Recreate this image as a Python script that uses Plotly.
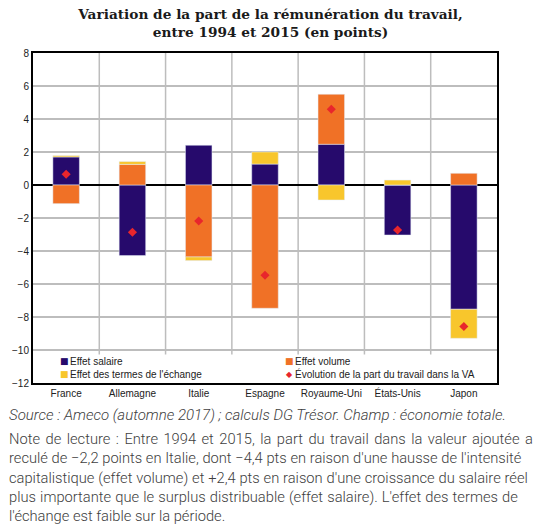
import plotly.graph_objects as go

pays = ["France", "Allemagne", "Italie", "Espagne", "Royaume-Uni", "États-Unis", "Japon"]
effet_salaire = [1.70, -4.28, 2.41, 1.27, 2.47, -3.03, -7.53]
effet_volume = [-1.13, 1.25, -4.36, -7.47, 3.03, 0.0, 0.71]
effet_termes = [0.08, 0.17, -0.22, 0.73, -0.91, 0.30, -1.76]
evolution = [0.65, -2.86, -2.18, -5.47, 4.59, -2.73, -8.58]
y_ticks = [8, 6, 4, 2, 0, -2, -4, -6, -8, -10, -12]

noms = ["Effet salaire", "Effet volume", "Effet des termes de l'échange",
        "Évolution de la part du travail dans la VA"]
title_text = "Variation de la part de la rémunération du travail,<br>entre 1994 et 2015 (en points)"
source_text = "Source : Ameco (automne 2017) ; calculs DG Trésor. Champ : économie totale."
note_lines = [
    "Note de lecture : Entre 1994 et 2015, la part du travail dans la valeur ajoutée a",
    "reculé de −2,2 points en Italie, dont −4,4 pts en raison d'une hausse de l'intensité",
    "capitalistique (effet volume) et +2,4 pts en raison d'une croissance du salaire réel",
    "plus importante que le surplus distribuable (effet salaire). L'effet des termes de",
    "l'échange est faible sur la période.",
]
# extra word spacing (px) to imitate justified text
note_spacing = [1.9, 0.1, 0.25, 0.55, 0.0]

C_SAL = "#260a6c"
C_VOL = "#f07126"
C_TER = "#f8c62c"
C_EVO = "#e8262c"
colors = [C_SAL, C_VOL, C_TER, C_EVO]

# plot area in pixels
L, R, T, B = 29, 497, 53, 383
W, H = 541, 524


def px(xp):
    return (xp - L) / (R - L)


def py(yp):
    return (B - yp) / (B - T)


fig = go.Figure()
fig.add_trace(go.Bar(x=pays, y=effet_salaire, name=noms[0], marker_color=C_SAL, width=0.4))
fig.add_trace(go.Bar(x=pays, y=effet_volume, name=noms[1], marker_color=C_VOL, width=0.4))
fig.add_trace(go.Bar(x=pays, y=effet_termes, name=noms[2], marker_color=C_TER, width=0.4))
fig.add_trace(go.Scatter(x=pays, y=evolution, mode="markers", name=noms[3],
                         marker=dict(symbol="diamond", size=7, color=C_EVO)))

# vertical category separators (stop above the legend box)
for i in range(len(pays) - 1):
    fig.add_shape(type="line", xref="x", yref="y", x0=i + 0.5, x1=i + 0.5, y0=-10.27, y1=8,
                  line=dict(color="#bdbdbd", width=1.5), layer="below")

fig.update_layout(
    width=W, height=H,
    margin=dict(l=L, r=W - R, t=T, b=H - B),
    paper_bgcolor="white", plot_bgcolor="white",
    barmode="relative",
    title=dict(text=title_text, x=0.5, xanchor="center", yref="container", y=1 - 19 / H, yanchor="top",
               font=dict(family="DejaVu Serif", size=13.7, color="#1a1a1a", weight="bold")),
    font=dict(family="Liberation Sans", color="#222222"),
    showlegend=False,
    xaxis=dict(showgrid=False, showline=True, linecolor="black", linewidth=2, mirror=True,
               ticks="", tickfont=dict(size=10, color="#222222"), range=[-0.5, 6.5]),
    yaxis=dict(range=[-12, 8], tickvals=y_ticks, showgrid=True, gridcolor="#bdbdbd", gridwidth=1.5,
               showline=True, linecolor="black", linewidth=2, mirror=True,
               zeroline=True, zerolinecolor="black", zerolinewidth=2,
               ticks="", tickfont=dict(size=10, color="#222222")),
)

# legend drawn as text (two columns, two rows)
leg_pos = [(57, 361), (284, 361), (57, 374), (284, 374)]
leg_sym = ["■", "■", "■", "◆"]
for (xp, yp), sym, col, nom in zip(leg_pos, leg_sym, colors, noms):
    fig.add_annotation(text=sym, xref="paper", yref="paper", x=px(xp + 3.5), y=py(yp),
                       xanchor="center", yanchor="middle", showarrow=False,
                       font=dict(family="DejaVu Sans", size=9 if sym == "■" else 8, color=col))
    fig.add_annotation(text=nom, xref="paper", yref="paper", x=px(xp + 7), y=py(yp),
                       xanchor="left", yanchor="middle", showarrow=False,
                       font=dict(family="Liberation Sans", size=10, color="#222222"))

fig.add_annotation(text=source_text, xref="paper", yref="paper", x=px(3), y=py(415),
                   xanchor="left", yanchor="middle", showarrow=False,
                   font=dict(family="Roboto", size=15, color="#404040", style="italic", weight=300))
for k, (line, sp) in enumerate(zip(note_lines, note_spacing)):
    yc = 439 + k * 19.3
    txt = f'<span style="word-spacing:{sp}px">{line}</span>' if sp else line
    fig.add_annotation(text=txt, xref="paper", yref="paper", x=px(3), y=py(yc),
                       xanchor="left", yanchor="middle", showarrow=False,
                       font=dict(family="Roboto", size=14.7, color="#404040", weight=300))

fig.write_html("out.html", config={"displayModeBar": False},
               post_script="document.body.style.margin='0';")
